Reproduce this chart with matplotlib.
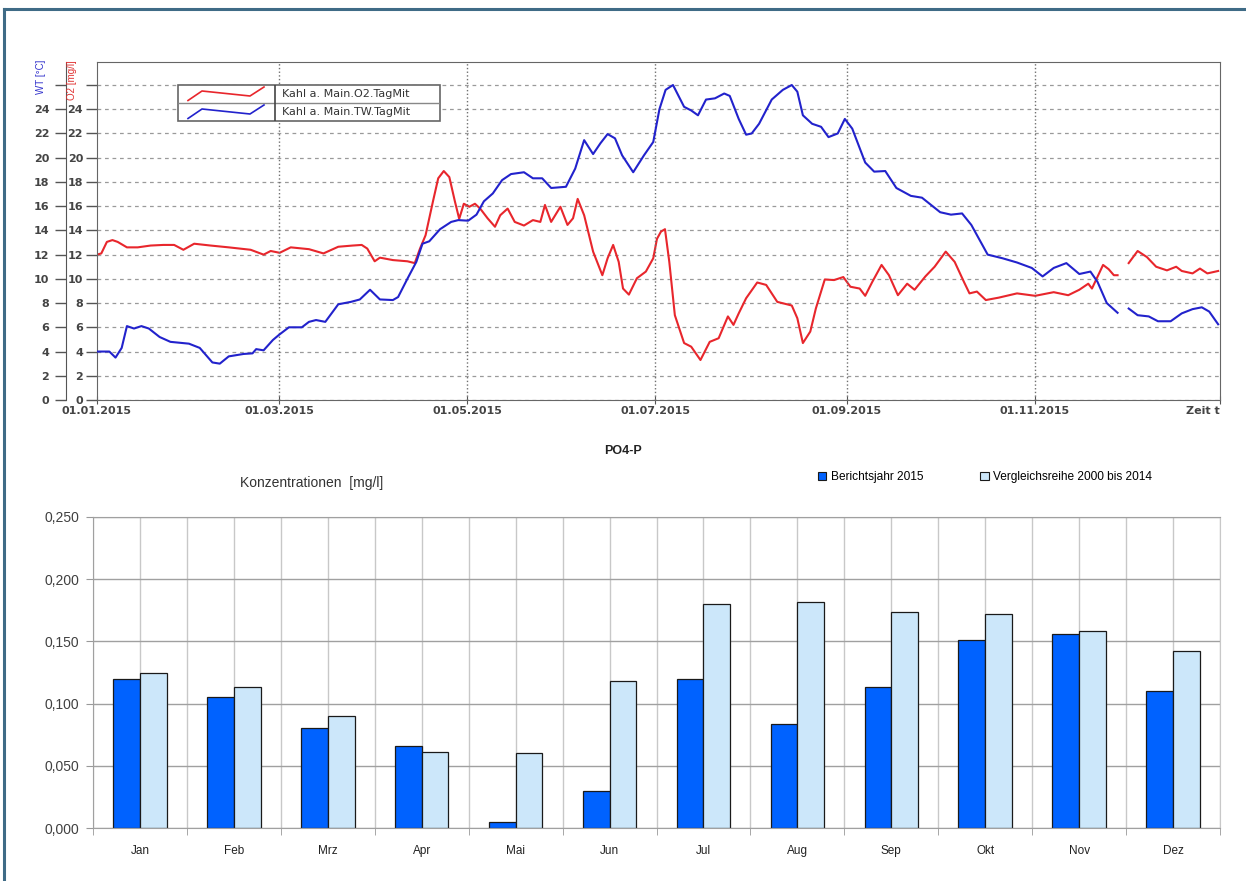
import datetime as dt
import matplotlib
matplotlib.use('Agg')
import matplotlib.pyplot as plt
from matplotlib.lines import Line2D
from matplotlib.patches import Rectangle, Patch
import numpy as np

plt.rcParams['font.family'] = ['Liberation Sans', 'DejaVu Sans']

# ---- upper chart: daily means, Kahl a. Main 2015 (day offset from 01.01.2015) ----
nan = np.nan
tw_days = [0, 4, 6, 8, 9.7, 12, 14.4, 16.8, 20.3, 23.8,
           29.8, 33.3, 37.4, 39.8, 42.7, 47.5, 50.4, 51.6, 54, 57,
           59.1, 62.2, 66.4, 68.7, 71, 74, 78.2, 82.3, 85.2, 88.5,
           91.7, 95.9, 97.6, 100.6, 103.5, 105.5, 107.7, 111.2, 114.8, 117.1,
           120.3, 123, 125.4, 128.3, 131.3, 134.2, 138.4, 141.3, 144.3, 147.2,
           152, 155, 157.9, 160.8, 163.2, 165.5, 167.9, 170.2, 173.8, 177.3,
           180.3, 182.3, 184.3, 186.7, 190.3, 192.6, 194.8, 197.4, 200.3, 203.3,
           205.1, 208, 210.4, 212.2, 214.6, 218.7, 222.3, 225.2, 227, 228.8,
           231.8, 234.7, 237.1, 240.1, 242.4, 244.8, 249, 251.9, 255.5, 259.1,
           263.8, 267.4, 273.3, 276.8, 280.4, 283.4, 288.7, 293.5, 298.2, 303,
           306.5, 310.1, 314.2, 318.4, 322, 324.3, 327.3, 330.8, 332.5, 334.4,
           337.3, 340.9, 343.9, 348, 351.6, 355.1, 358.1, 360.5, 363.4]
tw_vals = [4.0, 4.0, 3.5, 4.3, 6.1, 5.9, 6.1, 5.9, 5.2, 4.8,
           4.65, 4.3, 3.1, 3.0, 3.6, 3.8, 3.85, 4.2, 4.1, 4.95,
           5.4, 6.0, 6.0, 6.45, 6.6, 6.45, 7.9, 8.1, 8.3, 9.1,
           8.3, 8.25, 8.5, 10.0, 11.4, 12.9, 13.1, 14.1, 14.7, 14.85,
           14.8, 15.3, 16.4, 17.05, 18.15, 18.65, 18.8, 18.3, 18.3, 17.5,
           17.6, 19.1, 21.45, 20.3, 21.2, 21.95, 21.6, 20.2, 18.8, 20.2,
           21.3, 24.0, 25.6, 26.0, 24.2, 23.9, 23.5, 24.8, 24.9, 25.3,
           25.1, 23.2, 21.9, 22.0, 22.8, 24.8, 25.6, 26.0, 25.45, 23.5,
           22.8, 22.55, 21.7, 22.0, 23.2, 22.4, 19.6, 18.85, 18.9, 17.5,
           16.85, 16.7, 15.5, 15.3, 15.4, 14.45, 12.0, 11.7, 11.35, 10.9,
           10.2, 10.9, 11.3, 10.4, 10.6, 9.75, 8.0, 7.2, nan, 7.55,
           7.0, 6.9, 6.5, 6.5, 7.15, 7.5, 7.65, 7.3, 6.25]

o2_days = [0, 1.4, 3.2, 5, 6.7, 9.7, 13.2, 17.4, 21.5, 25,
           28, 31.5, 36.8, 42.7, 49.8, 54, 56.3, 59.2, 62.8, 68.7,
           73.4, 78.2, 82.9, 85.8, 87.6, 90, 91.7, 95.9, 100.6, 103,
           104.7, 106.5, 108.9, 110.6, 112.4, 114.2, 116, 117.4, 118.9, 120.7,
           122.5, 124.2, 126.6, 129, 130.7, 133.1, 135.4, 138.4, 141.3, 143.7,
           145.2, 147.2, 150.2, 152.5, 154.3, 155.8, 157.9, 160.8, 163.8, 165.5,
           167.3, 169.1, 170.5, 172.4, 175, 177.9, 180.3, 181.5, 182.8, 184.1,
           185.5, 187.3, 190.3, 192.6, 195.6, 198.6, 201.5, 204.5, 206.3, 208,
           210.4, 214, 216.9, 220.5, 225.2, 227, 228.8, 231.2, 233, 235.9,
           238.9, 241.9, 244.2, 247.2, 249, 251.3, 254.3, 256.7, 259.6, 262.6,
           265, 268.5, 271.5, 275.1, 278, 281, 282.8, 285.2, 288.1, 292.3,
           298.2, 304.1, 310.1, 314.8, 318.4, 321.3, 322.5, 326.1, 327.9, 329.6,
           330.8, 332.5, 334.4, 337.3, 340.3, 343.3, 346.8, 349.8, 351.6, 355.1,
           357.5, 359.9, 363.4]
o2_vals = [12.0, 12.1, 13.05, 13.2, 13.05, 12.6, 12.6, 12.75, 12.8, 12.8,
           12.4, 12.9, 12.75, 12.6, 12.4, 12.0, 12.3, 12.15, 12.6, 12.45,
           12.1, 12.65, 12.75, 12.8, 12.5, 11.45, 11.75, 11.55, 11.45, 11.3,
           12.5, 13.6, 16.4, 18.3, 18.9, 18.4, 16.4, 14.95, 16.2, 15.95,
           16.2, 15.8, 15.0, 14.3, 15.25, 15.8, 14.7, 14.4, 14.85, 14.7,
           16.1, 14.7, 15.95, 14.45, 15.0, 16.6, 15.25, 12.25, 10.3, 11.7,
           12.8, 11.4, 9.2, 8.7, 10.05, 10.6, 11.7, 13.3, 13.9, 14.1,
           11.4, 7.0, 4.7, 4.4, 3.3, 4.8, 5.1, 6.9, 6.2, 7.15,
           8.4, 9.7, 9.5, 8.1, 7.8, 6.75, 4.7, 5.65, 7.55, 9.95,
           9.9, 10.15, 9.35, 9.2, 8.6, 9.75, 11.15, 10.3, 8.65, 9.6,
           9.1, 10.2, 11.0, 12.25, 11.4, 9.75, 8.8, 8.95, 8.25, 8.45,
           8.8, 8.6, 8.9, 8.65, 9.1, 9.6, 9.2, 11.15, 10.8, 10.3,
           10.3, nan, 11.3, 12.3, 11.8, 11.0, 10.7, 11.0, 10.65, 10.45,
           10.85, 10.45, 10.65]

tick_dates = ['2015-01-01', '2015-03-01', '2015-05-01', '2015-07-01', '2015-09-01', '2015-11-01']
o2_name = 'Kahl a. Main.O2.TagMit'
tw_name = 'Kahl a. Main.TW.TagMit'

# ---- lower chart: PO4-P monthly concentrations ----
months = ['Jan', 'Feb', 'Mrz', 'Apr', 'Mai', 'Jun', 'Jul', 'Aug', 'Sep', 'Okt', 'Nov', 'Dez']
po4_2015 = [0.120, 0.105, 0.080, 0.066, 0.005, 0.030, 0.120, 0.084, 0.113, 0.151, 0.156, 0.110]
po4_ref = [0.125, 0.113, 0.090, 0.061, 0.060, 0.118, 0.180, 0.182, 0.174, 0.172, 0.158, 0.142]

W, H = 1246, 881
fig = plt.figure(figsize=(W / 100, H / 100), dpi=100)

def fx(px):
    return px / W

def fy(py):
    return 1 - py / H

# page frame (top and left edge)
fig.add_artist(Line2D([fx(4), 1], [fy(9), fy(9)], color='#3f6b86', lw=2.2))
fig.add_artist(Line2D([fx(4), fx(4)], [0, fy(9)], color='#3f6b86', lw=2.2))

# ================= upper chart =================
red = '#e8262c'
blue = '#2222cc'
ax = fig.add_axes([fx(97), fy(400), fx(1220) - fx(97), fy(62) - fy(400)])
ax.plot(o2_days, o2_vals, color=red, lw=1.5)
ax_w = ax.twinx()
ax_w.plot(tw_days, tw_vals, color=blue, lw=1.5)
ax_w.yaxis.tick_left()
ax_w.spines['left'].set_position(('outward', 22.3))
ax_w.spines['left'].set_color('#555')
for s in ('right', 'top', 'bottom'):
    ax_w.spines[s].set_visible(False)

yt = list(range(0, 27, 2))
ylab = [str(v) if v < 26 else '' for v in yt]
for a in (ax, ax_w):
    a.set_ylim(0, 27.9)
    a.set_xlim(0, 364)
    a.set_yticks(yt)
    a.set_yticklabels(ylab, fontsize=8, fontweight='bold', color='#444', family='DejaVu Sans')
    a.tick_params(axis='y', direction='out', length=8, width=1, color='#555', pad=2)
ax_w.tick_params(axis='y', pad=4)

for s in ax.spines.values():
    s.set_color('#666')

start = dt.date(2015, 1, 1)
tdays = [(dt.date.fromisoformat(d) - start).days for d in tick_dates]
tlabels = [dt.date.fromisoformat(d).strftime('%d.%m.%Y') for d in tick_dates]
ax.set_xticks(tdays + [364])
ax.set_xticklabels(tlabels + ['Zeit t'], fontsize=8, fontweight='bold', color='#444', family='DejaVu Sans')
ax.get_xticklabels()[-1].set_ha('right')
ax.tick_params(axis='x', direction='inout', length=6, color='#555', pad=1)

ax.yaxis.grid(True, ls=(0, (3, 3)), color='#9a9a9a', lw=0.9)
for d in tdays[1:]:
    ax.axvline(d, color='#707070', lw=1, ls=':')

fig.text(fx(41), fy(60), 'WT [°C]', rotation=90, ha='center', va='top', color='#3333cc', fontsize=7)
fig.text(fx(72), fy(60), 'O2 [mg/l]', rotation=90, ha='center', va='top', color='#e03030', fontsize=7)

# legend box of the upper chart
lg = fig.add_axes([fx(178), fy(121), fx(440) - fx(178), fy(85) - fy(121)])
lg.set_xlim(0, 262)
lg.set_ylim(36, 0)
lg.axis('off')
lg.add_patch(Rectangle((0, 0), 262, 36, facecolor='white', edgecolor='#666', lw=1.2, clip_on=False))
lg.plot([0, 262], [18, 18], color='#888', lw=1)
lg.plot([97, 97], [0, 36], color='#444', lw=1.2)
zig_x = [10, 24, 72, 86]
zig_y = [15.5, 6, 11, 2]
for row, (col, name) in enumerate([(red, o2_name), (blue, tw_name)]):
    lg.plot(zig_x, [v + 18 * row for v in zig_y], color=col, lw=1.2)
    lg.text(104, 9 + 18 * row, name, va='center', ha='left', fontsize=8,
            color='#333', family='DejaVu Sans')

# ================= lower chart =================
fig.text(fx(623), fy(451), 'PO4-P', ha='center', va='center', fontsize=9, fontweight='bold', color='#222')
fig.text(fx(240), fy(483), 'Konzentrationen  [mg/l]', ha='left', va='center', fontsize=10, color='#333')

axb = fig.add_axes([fx(93), fy(828), fx(1220) - fx(93), fy(517) - fy(828)])
x = np.arange(len(months))
bw = 0.285
c_2015 = '#0062ff'
c_ref = '#cce7fa'
axb.bar(x - bw / 2, po4_2015, bw, color=c_2015, edgecolor='#1a1a1a', lw=0.9)
axb.bar(x + bw / 2, po4_ref, bw, color=c_ref, edgecolor='#1a1a1a', lw=0.9)
axb.set_xlim(-0.5, len(months) - 0.5)
axb.set_ylim(0, 0.25)
axb.set_axisbelow(True)

yv = np.arange(0, 0.2501, 0.05)
axb.set_yticks(yv)
axb.set_yticklabels([f'{v:.3f}'.replace('.', ',') for v in yv], fontsize=10, color='#404040')
axb.tick_params(axis='y', length=5, color='#999', pad=5)

axb.set_xticks(x)
axb.set_xticklabels(months, fontsize=8.5, color='#222')
axb.set_xticks(np.arange(-0.5, len(months), 1), minor=True)
axb.tick_params(axis='x', which='major', length=0, pad=12)
axb.tick_params(axis='x', which='minor', length=5, color='#999')

axb.yaxis.grid(True, color='#a0a0a0', lw=1)
axb.xaxis.grid(True, which='both', color='#c8c8c8', lw=1)
for s in ('left', 'bottom', 'top'):
    axb.spines[s].set_color('#a0a0a0')
axb.spines['right'].set_color('#c8c8c8')

handles = [Patch(facecolor=c_2015, edgecolor='#1a1a1a', lw=0.8),
           Patch(facecolor=c_ref, edgecolor='#1a1a1a', lw=0.8)]
fig.legend(handles, ['Berichtsjahr 2015', 'Vergleichsreihe 2000 bis 2014'],
           loc='center left', bbox_to_anchor=(fx(818), fy(477)), ncol=2, frameon=False,
           fontsize=8.6, handlelength=0.7, handleheight=0.7, handletextpad=0.35,
           columnspacing=4.8, borderaxespad=0, borderpad=0)

fig.savefig('out.png', dpi=100)
